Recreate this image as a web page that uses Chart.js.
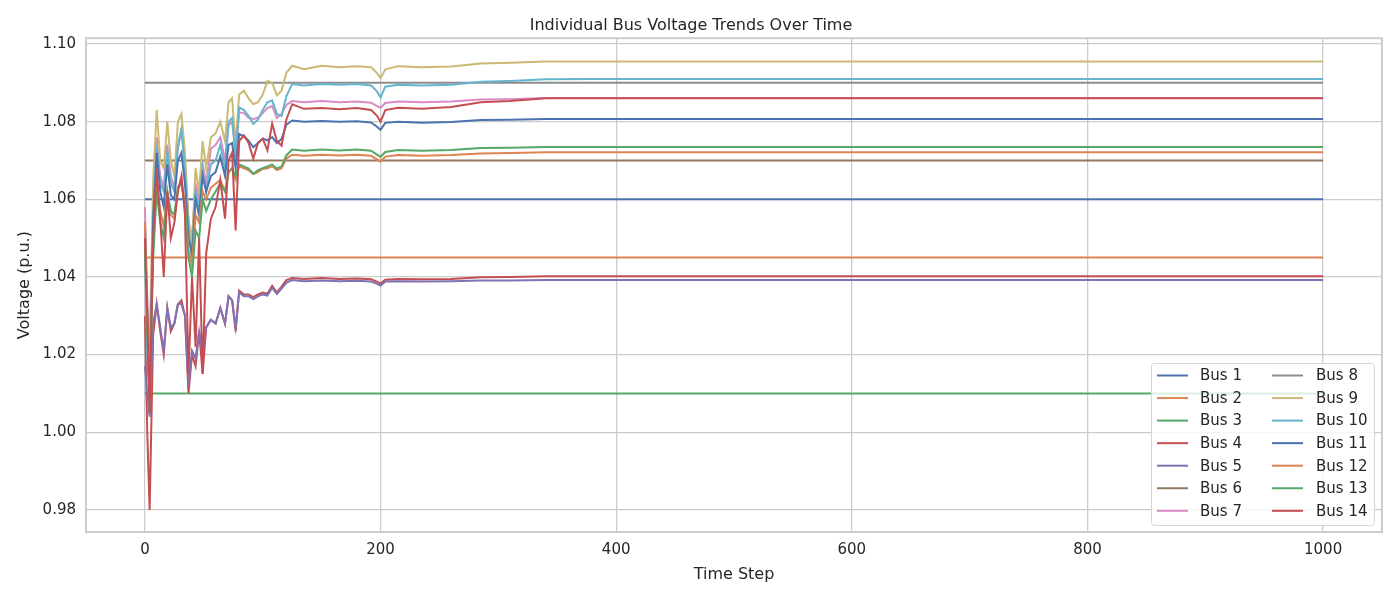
<!DOCTYPE html>
<html>
<head>
<meta charset="utf-8">
<title>Individual Bus Voltage Trends Over Time</title>
<script src="https://cdn.jsdelivr.net/npm/chart.js@4/dist/chart.umd.min.js"></script>
<style>
    html, body { margin: 0; padding: 0; background: #fff; }
    #wrap { width: 1400px; height: 600px; }
</style>
</head>
<body>
<div id="wrap"><canvas id="bus-chart" width="1400" height="600"></canvas></div>
<script>
/* Bus voltage trends — 14 buses over 1000 time steps */

const TIME_STEPS = [
    0, 2, 4, 7, 10, 13, 16, 19, 22, 25, 28, 31, 34, 37, 40, 43, 46, 49, 52, 56,
    60, 64, 68, 71, 74, 77, 80, 84, 88, 92, 96, 100, 104, 108, 112, 116, 120, 125, 135, 150,
    165, 180, 192, 197, 200, 204, 215, 235, 260, 285, 310, 340, 380, 1000
];

const BUS_NAMES = ['Bus 1','Bus 2','Bus 3','Bus 4','Bus 5','Bus 6','Bus 7',
                   'Bus 8','Bus 9','Bus 10','Bus 11','Bus 12','Bus 13','Bus 14'];

const COLORS = [
    '#4C72B0','#DD8452','#55A868','#C44E52','#8172B3','#937860','#DA8BC3',
    '#8C8C8C','#CCB974','#64B5CD','#4C72B0','#DD8452','#55A868','#C44E52'
];

// fixed-voltage buses (value held for the whole run)
const BUS1 = 1.060;
const BUS2 = 1.045;
const BUS3 = 1.010;
const BUS6 = 1.070;
const BUS8 = 1.090;

const BUS4 = [
    1.030, 1.000, 0.980, 1.025, 1.033, 1.026, 1.020, 1.032, 1.026, 1.028, 1.033, 1.034, 1.030, 1.010, 1.020, 1.017, 1.026, 1.015, 1.027, 1.029,
    1.028, 1.032, 1.028, 1.035, 1.034, 1.026, 1.0365, 1.0355, 1.0355, 1.0348, 1.0355, 1.036, 1.0357, 1.0377, 1.036, 1.0375, 1.0392, 1.0397, 1.0395, 1.0397,
    1.0395, 1.0396, 1.0394, 1.0388, 1.0383, 1.0393, 1.0395, 1.0394, 1.0395, 1.0399, 1.0400, 1.0402, 1.0402, 1.0402
];
const BUS5 = [
    1.017, 1.010, 1.004, 1.028, 1.033, 1.027, 1.021, 1.032, 1.027, 1.028, 1.033, 1.033, 1.030, 1.012, 1.021, 1.019, 1.026, 1.020, 1.027, 1.029,
    1.028, 1.032, 1.028, 1.035, 1.034, 1.027, 1.036, 1.035, 1.035, 1.0343, 1.035, 1.0355, 1.0352, 1.0372, 1.0356, 1.037, 1.0385, 1.0392, 1.0389, 1.0391,
    1.0389, 1.0390, 1.0388, 1.0382, 1.0378, 1.0388, 1.0389, 1.0388, 1.0389, 1.0391, 1.0391, 1.0392, 1.0392, 1.0392
];
const BUS7 = [
    1.058, 1.035, 1.020, 1.058, 1.076, 1.066, 1.063, 1.074, 1.066, 1.063, 1.073, 1.078, 1.069, 1.054, 1.050, 1.064, 1.060, 1.069, 1.064, 1.073,
    1.074, 1.076, 1.070, 1.079, 1.080, 1.072, 1.0824, 1.0822, 1.081, 1.0807, 1.081, 1.0822, 1.0835, 1.084, 1.081, 1.082, 1.0843, 1.0853, 1.0850, 1.0853,
    1.0850, 1.0852, 1.0849, 1.0840, 1.0836, 1.0848, 1.0852, 1.0850, 1.0852, 1.0857, 1.0858, 1.0861, 1.0861, 1.0861
];
const BUS9 = [
    1.050, 1.030, 1.020, 1.065, 1.083, 1.070, 1.068, 1.080, 1.070, 1.066, 1.080, 1.082, 1.072, 1.055, 1.048, 1.068, 1.062, 1.075, 1.068, 1.076,
    1.077, 1.080, 1.075, 1.085, 1.086, 1.074, 1.087, 1.088, 1.086, 1.0845, 1.085, 1.087, 1.0905, 1.090, 1.0868, 1.088, 1.0926, 1.0944, 1.0935, 1.0944,
    1.0940, 1.0943, 1.0940, 1.0925, 1.0912, 1.0935, 1.0943, 1.0940, 1.0942, 1.0950, 1.0952, 1.0955, 1.0955, 1.0955
];
const BUS10 = [
    1.048, 1.020, 1.006, 1.055, 1.074, 1.064, 1.062, 1.072, 1.064, 1.062, 1.074, 1.078, 1.068, 1.052, 1.045, 1.062, 1.058, 1.068, 1.062, 1.069,
    1.070, 1.074, 1.068, 1.080, 1.081, 1.071, 1.0837, 1.083, 1.0815, 1.0794, 1.0805, 1.083, 1.085, 1.0855, 1.082, 1.0815, 1.0865, 1.0897, 1.0893, 1.0897,
    1.0895, 1.0897, 1.0893, 1.0878, 1.0862, 1.0890, 1.0895, 1.0893, 1.0895, 1.0903, 1.0905, 1.0909, 1.0910, 1.0910
];
const BUS11 = [
    1.054, 1.030, 1.012, 1.055, 1.072, 1.062, 1.058, 1.069, 1.061, 1.060, 1.070, 1.072, 1.064, 1.050, 1.046, 1.060, 1.056, 1.066, 1.062, 1.066,
    1.067, 1.071, 1.066, 1.074, 1.0745, 1.068, 1.0768, 1.0762, 1.0751, 1.0734, 1.0745, 1.0756, 1.0752, 1.076, 1.0745, 1.0755, 1.0792, 1.0803, 1.0800, 1.0802,
    1.0800, 1.0801, 1.0798, 1.0787, 1.0779, 1.0797, 1.0800, 1.0797, 1.0799, 1.0804, 1.0805, 1.0807, 1.0807, 1.0807
];
const BUS12 = [
    1.054, 1.030, 1.012, 1.048, 1.065, 1.057, 1.053, 1.062, 1.056, 1.055, 1.063, 1.065, 1.059, 1.047, 1.043, 1.056, 1.054, 1.062, 1.060, 1.063,
    1.064, 1.065, 1.062, 1.067, 1.068, 1.065, 1.0685, 1.068, 1.0675, 1.0665, 1.067, 1.0678, 1.068, 1.0685, 1.0675, 1.068, 1.0705, 1.0715, 1.0712, 1.0715,
    1.0713, 1.0715, 1.0712, 1.0703, 1.0697, 1.0710, 1.0714, 1.0712, 1.0714, 1.0718, 1.0719, 1.0721, 1.0721, 1.0721
];
const BUS13 = [
    1.047, 1.025, 1.010, 1.045, 1.062, 1.054, 1.050, 1.062, 1.057, 1.056, 1.063, 1.064, 1.058, 1.045, 1.040, 1.052, 1.050, 1.060, 1.057, 1.060,
    1.062, 1.064, 1.062, 1.067, 1.068, 1.066, 1.069, 1.0685, 1.0679, 1.0666, 1.0675, 1.068, 1.0685, 1.069, 1.0679, 1.0685, 1.0713, 1.0728, 1.0725, 1.0728,
    1.0726, 1.0728, 1.0725, 1.0715, 1.0709, 1.0722, 1.0727, 1.0725, 1.0727, 1.0732, 1.0733, 1.0735, 1.0735, 1.0735
];
const BUS14 = [
    1.050, 1.030, 1.005, 1.050, 1.068, 1.055, 1.040, 1.062, 1.050, 1.054, 1.062, 1.066, 1.056, 1.015, 1.040, 1.022, 1.050, 1.015, 1.046, 1.055,
    1.058, 1.065, 1.055, 1.070, 1.072, 1.052, 1.075, 1.0765, 1.0745, 1.0705, 1.0745, 1.0756, 1.0726, 1.0795, 1.075, 1.0738, 1.0805, 1.0845, 1.0833, 1.0835,
    1.0832, 1.0835, 1.0830, 1.0815, 1.0800, 1.0830, 1.0836, 1.0833, 1.0838, 1.0850, 1.0853, 1.0860, 1.0860, 1.0860
];

const X_TICKS = [0, 200, 400, 600, 800, 1000];
const Y_TICKS = [0.98, 1.00, 1.02, 1.04, 1.06, 1.08, 1.10];

const TEXT = '#262626';
const GRID = '#cccccc';

const flat = v => [{ x: TIME_STEPS[0], y: v }, { x: TIME_STEPS[TIME_STEPS.length - 1], y: v }];
const trace = arr => arr.map((v, i) => ({ x: TIME_STEPS[i], y: v }));

const SERIES = [
    flat(BUS1), flat(BUS2), flat(BUS3), trace(BUS4), trace(BUS5), flat(BUS6), trace(BUS7),
    flat(BUS8), trace(BUS9), trace(BUS10), trace(BUS11), trace(BUS12), trace(BUS13), trace(BUS14)
];

// frame on all four sides + two-column legend (matplotlib style)
const framePlugin = {
    id: 'frameAndLegend',
    afterDatasetsDraw(chart) {
        const { ctx, chartArea: a } = chart;
        ctx.save();
        ctx.strokeStyle = GRID;
        ctx.lineWidth = 2;
        ctx.strokeRect(a.left, a.top, a.right - a.left, a.bottom - a.top);

        // legend box
        const bx = 1151.5, by = 363.5, bw = 223, bh = 162;
        ctx.beginPath();
        ctx.roundRect(bx, by, bw, bh, 3);
        ctx.fillStyle = 'rgba(255,255,255,0.8)';
        ctx.fill();
        ctx.strokeStyle = '#d6d6d6';
        ctx.lineWidth = 1;
        ctx.stroke();

        ctx.font = '15px "DejaVu Sans"';
        ctx.textBaseline = 'middle';
        ctx.textAlign = 'left';
        const cols = [{ lx: 1157, tx: 1200 }, { lx: 1272, tx: 1316 }];
        chart.data.datasets.forEach((ds, i) => {
            const c = cols[Math.floor(i / 7)];
            const y = 375.5 + (i % 7) * 22.55;
            ctx.strokeStyle = ds.borderColor;
            ctx.lineWidth = 2;
            ctx.beginPath();
            ctx.moveTo(c.lx, y);
            ctx.lineTo(c.lx + 31, y);
            ctx.stroke();
            ctx.fillStyle = TEXT;
            ctx.fillText(ds.label, c.tx, y + 1);
        });
        ctx.restore();
    }
};

new Chart(document.getElementById('bus-chart').getContext('2d'), {
    type: 'line',
    data: {
        datasets: SERIES.map((pts, i) => ({
            label: BUS_NAMES[i],
            data: pts,
            borderColor: COLORS[i],
            backgroundColor: COLORS[i],
            borderWidth: 2,
            pointRadius: 0,
            tension: 0,
            fill: false,
            order: BUS_NAMES.length - i,
        })),
    },
    options: {
        responsive: false,
        animation: false,
        layout: { padding: { left: 0, right: 18, top: 0, bottom: 0 } },
        plugins: {
            legend: { display: false },
            tooltip: { enabled: false },
            title: {
                display: true,
                text: 'Individual Bus Voltage Trends Over Time',
                color: TEXT,
                font: { family: 'DejaVu Sans', size: 16, weight: 'normal' },
                padding: { top: 16, bottom: 3 },
            },
        },
        scales: {
            x: {
                type: 'linear',
                min: -50,
                max: 1050,
                afterBuildTicks: s => { s.ticks = X_TICKS.map(v => ({ value: v })); },
                afterFit: s => { s.height = 68; },
                ticks: {
                    color: TEXT, font: { family: 'DejaVu Sans', size: 15 }, padding: 9, maxRotation: 0,
                    callback: v => String(v),
                },
                grid: { color: GRID, lineWidth: 1.3, tickLength: 0, drawTicks: false },
                border: { display: false },
                title: {
                    display: true, text: 'Time Step', color: TEXT,
                    font: { family: 'DejaVu Sans', size: 16 },
                    padding: { top: 0, bottom: 16 },
                },
            },
            y: {
                type: 'linear',
                min: 0.9743,
                max: 1.1015,
                afterBuildTicks: s => { s.ticks = Y_TICKS.map(v => ({ value: v })); },
                afterFit: s => { s.width = 86; },
                ticks: {
                    color: TEXT, font: { family: 'DejaVu Sans', size: 15 }, padding: 10,
                    callback: v => v.toFixed(2),
                },
                grid: { color: GRID, lineWidth: 1.3, tickLength: 0, drawTicks: false },
                border: { display: false },
                title: {
                    display: true, text: 'Voltage (p.u.)', color: TEXT,
                    font: { family: 'DejaVu Sans', size: 16 },
                    padding: { top: 15, bottom: 0 },
                },
            },
        },
    },
    plugins: [framePlugin],
});
</script>
</body>
</html>
